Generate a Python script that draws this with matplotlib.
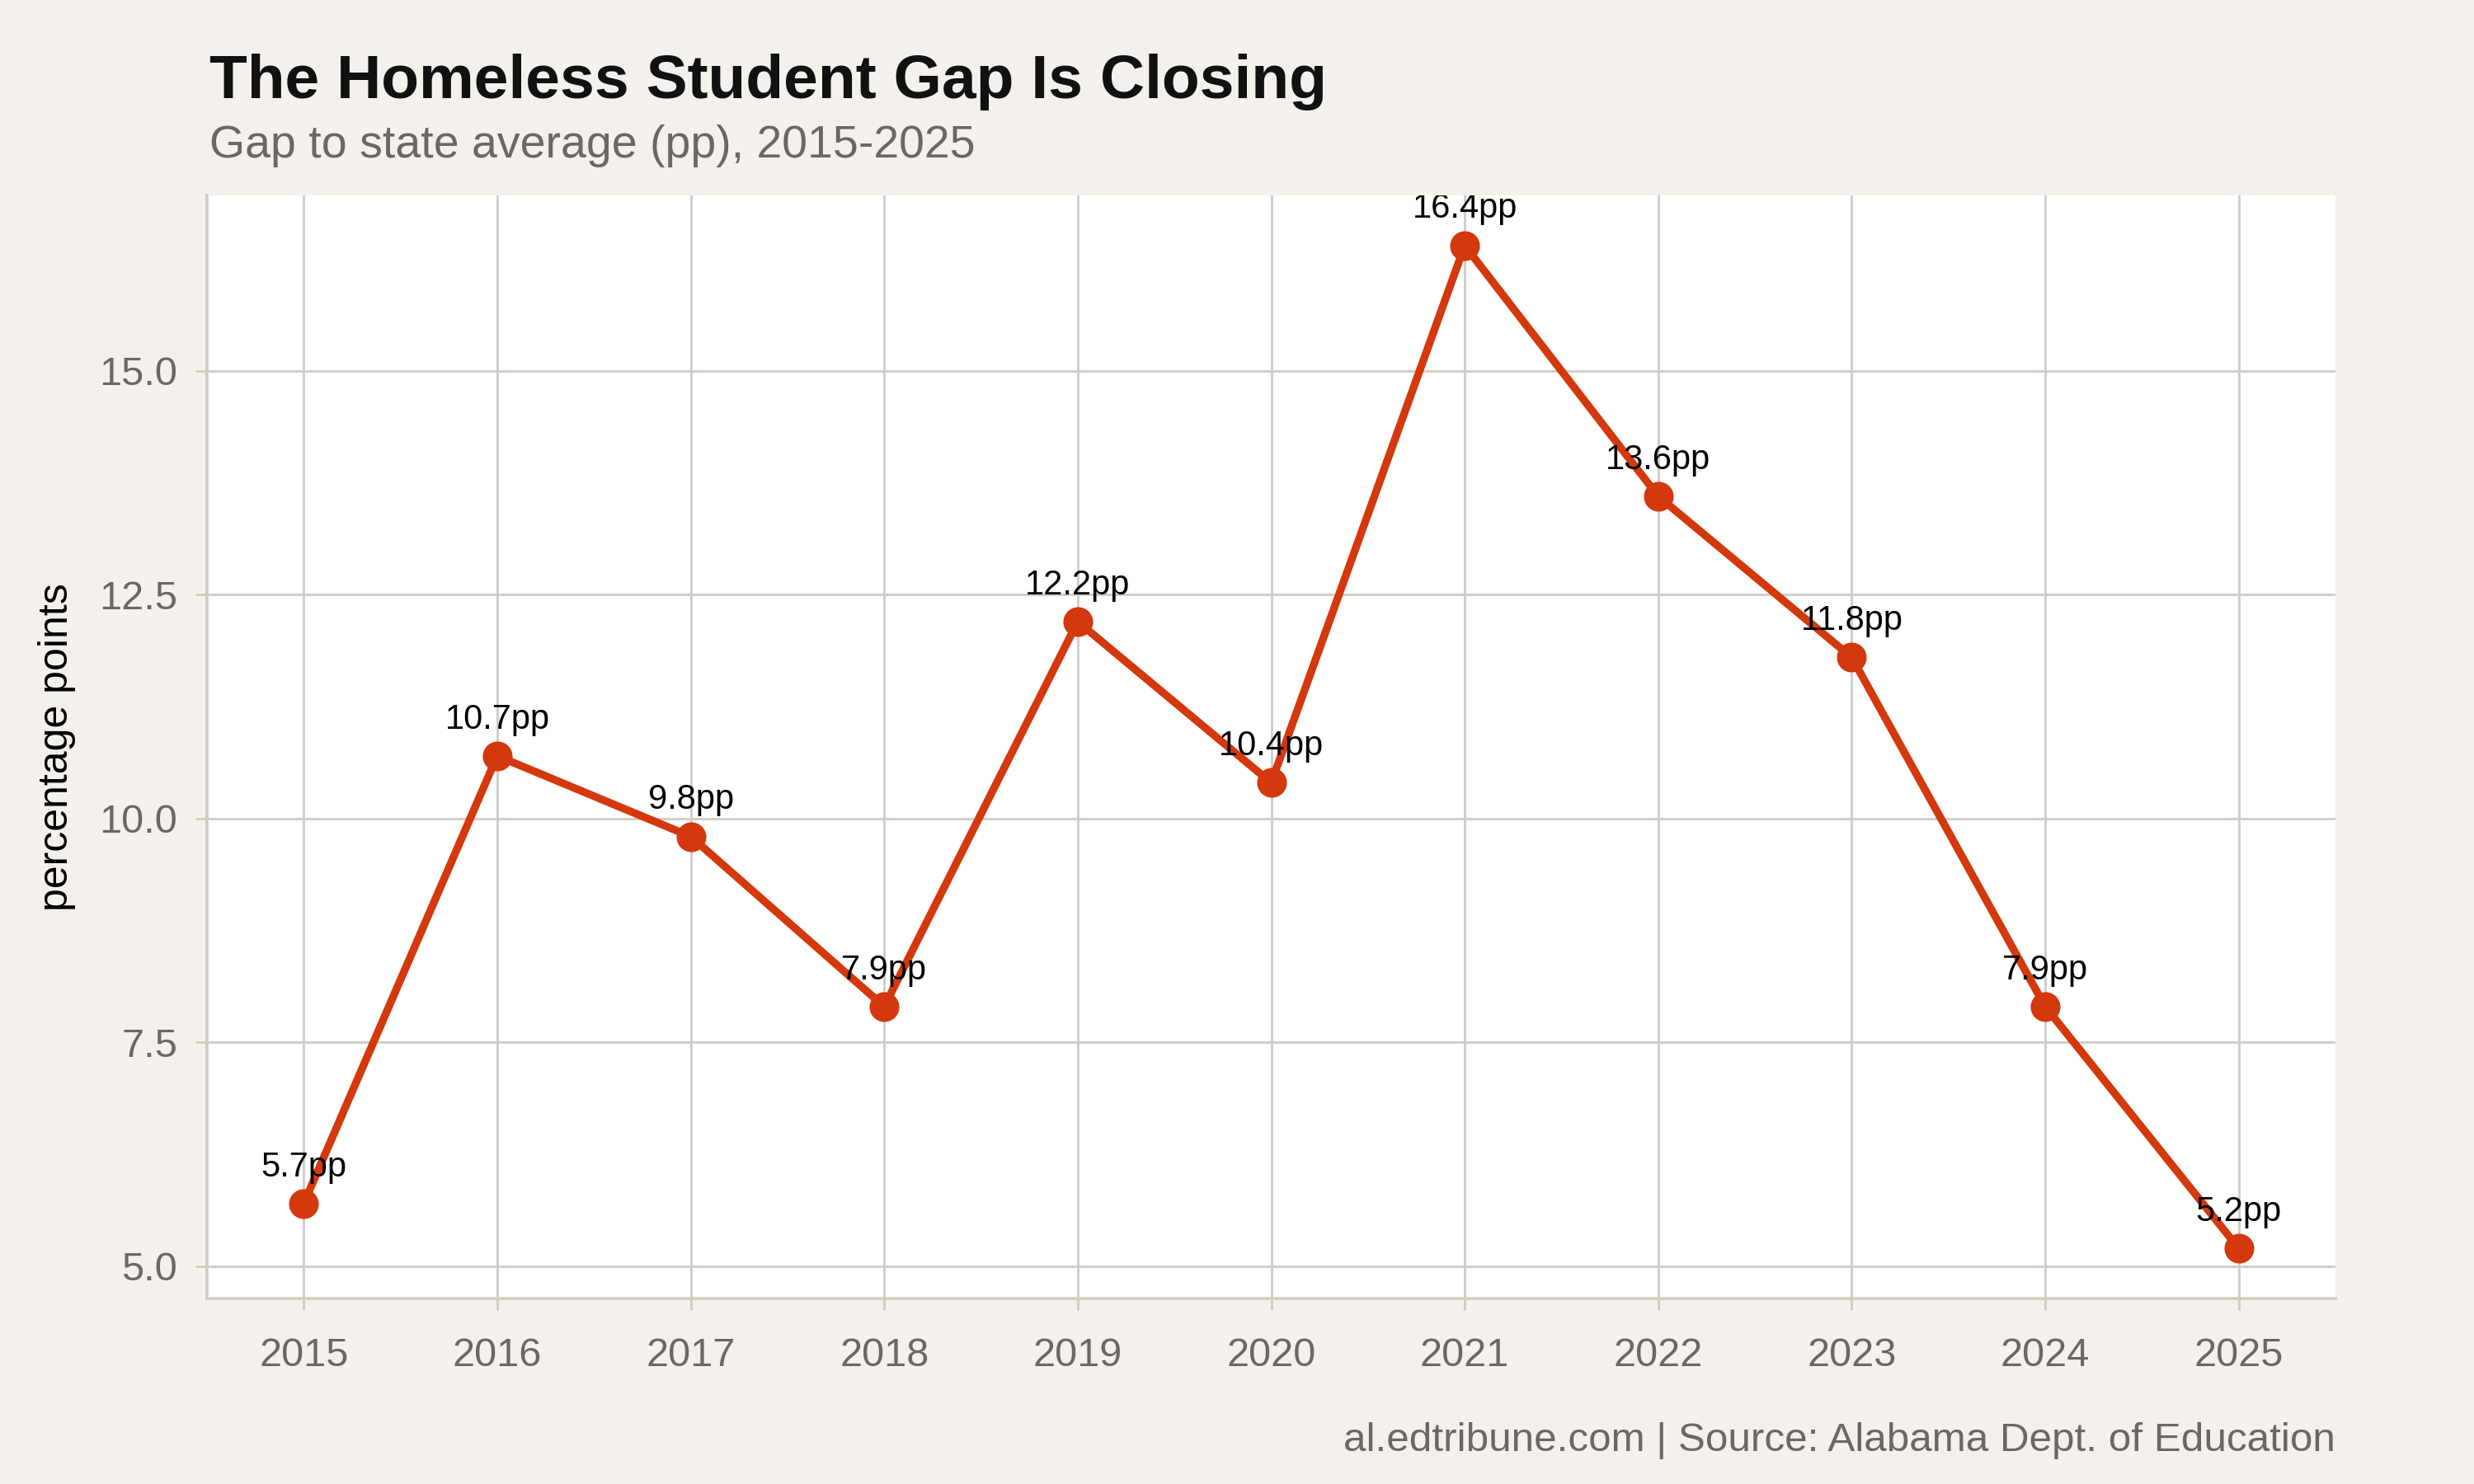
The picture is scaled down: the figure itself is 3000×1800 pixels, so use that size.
import matplotlib
matplotlib.use("Agg")
import matplotlib.pyplot as plt

years = [2015, 2016, 2017, 2018, 2019, 2020, 2021, 2022, 2023, 2024, 2025]
gap = [5.7, 10.7, 9.8, 7.9, 12.2, 10.4, 16.4, 13.6, 11.8, 7.9, 5.2]
yticks = [5.0, 7.5, 10.0, 12.5, 15.0]

title = "The Homeless Student Gap Is Closing"
subtitle = "Gap to state average (pp), 2015-2025"
caption = "al.edtribune.com | Source: Alabama Dept. of Education"
ylabel = "percentage points"

BG = "#f4f1ec"
GRID = "#d0cbc3"
LINE = "#d4380d"
GRAYTXT = "#6b6762"

plt.rcParams['font.family'] = ['Liberation Sans', 'DejaVu Sans']

fig = plt.figure(figsize=(15, 9), dpi=200, facecolor=BG)
ax = fig.add_axes([251/3000, 1 - 1575/1800, (2832-251)/3000, (1575-237)/1800])
ax.set_facecolor("white")

ax.plot(years, gap, color=LINE, lw=3.4, marker='o', ms=12, zorder=3, solid_capstyle='round')
for x, y in zip(years, gap):
    ax.annotate(f"{y:.1f}pp", (x, y), xytext=(0, 12), textcoords='offset points',
                ha='center', va='baseline', fontsize=15, color='black',
                annotation_clip=True, clip_on=True, zorder=4)

rng = max(gap) - min(gap)
ax.set_ylim(min(gap) - 0.05*rng, max(gap) + 0.05*rng)
ax.set_xlim(years[0] - 0.05*(years[-1]-years[0]), years[-1] + 0.05*(years[-1]-years[0]))
ax.set_xticks(years)
ax.set_xticklabels([str(y) for y in years])
ax.set_yticks(yticks)
ax.set_yticklabels([f"{t:.1f}" for t in yticks])

ax.grid(True, color=GRID, lw=1.0, zorder=0)
ax.set_axisbelow(True)
for s in ['top', 'right']:
    ax.spines[s].set_visible(False)
for s in ['left', 'bottom']:
    ax.spines[s].set_color(GRID)
    ax.spines[s].set_linewidth(1.3)
ax.tick_params(axis='both', colors=GRID, length=5, width=1.0, labelsize=17.5,
               labelcolor=GRAYTXT, pad=8)
ax.tick_params(axis='x', pad=12)
ax.set_ylabel(ylabel, fontsize=18, color='black', labelpad=10)

fig.text(254/3000, 1 - 119/1800, title, fontsize=27, fontweight='bold', color='#111111',
         ha='left', va='baseline')
fig.text(254/3000, 1 - 191/1800, subtitle, fontsize=20, color=GRAYTXT, ha='left', va='baseline')
fig.text(2832/3000, 1 - 1760/1800, caption, fontsize=17.8, color=GRAYTXT, ha='right', va='baseline')

fig.savefig("out.png", dpi=200, facecolor=BG)
